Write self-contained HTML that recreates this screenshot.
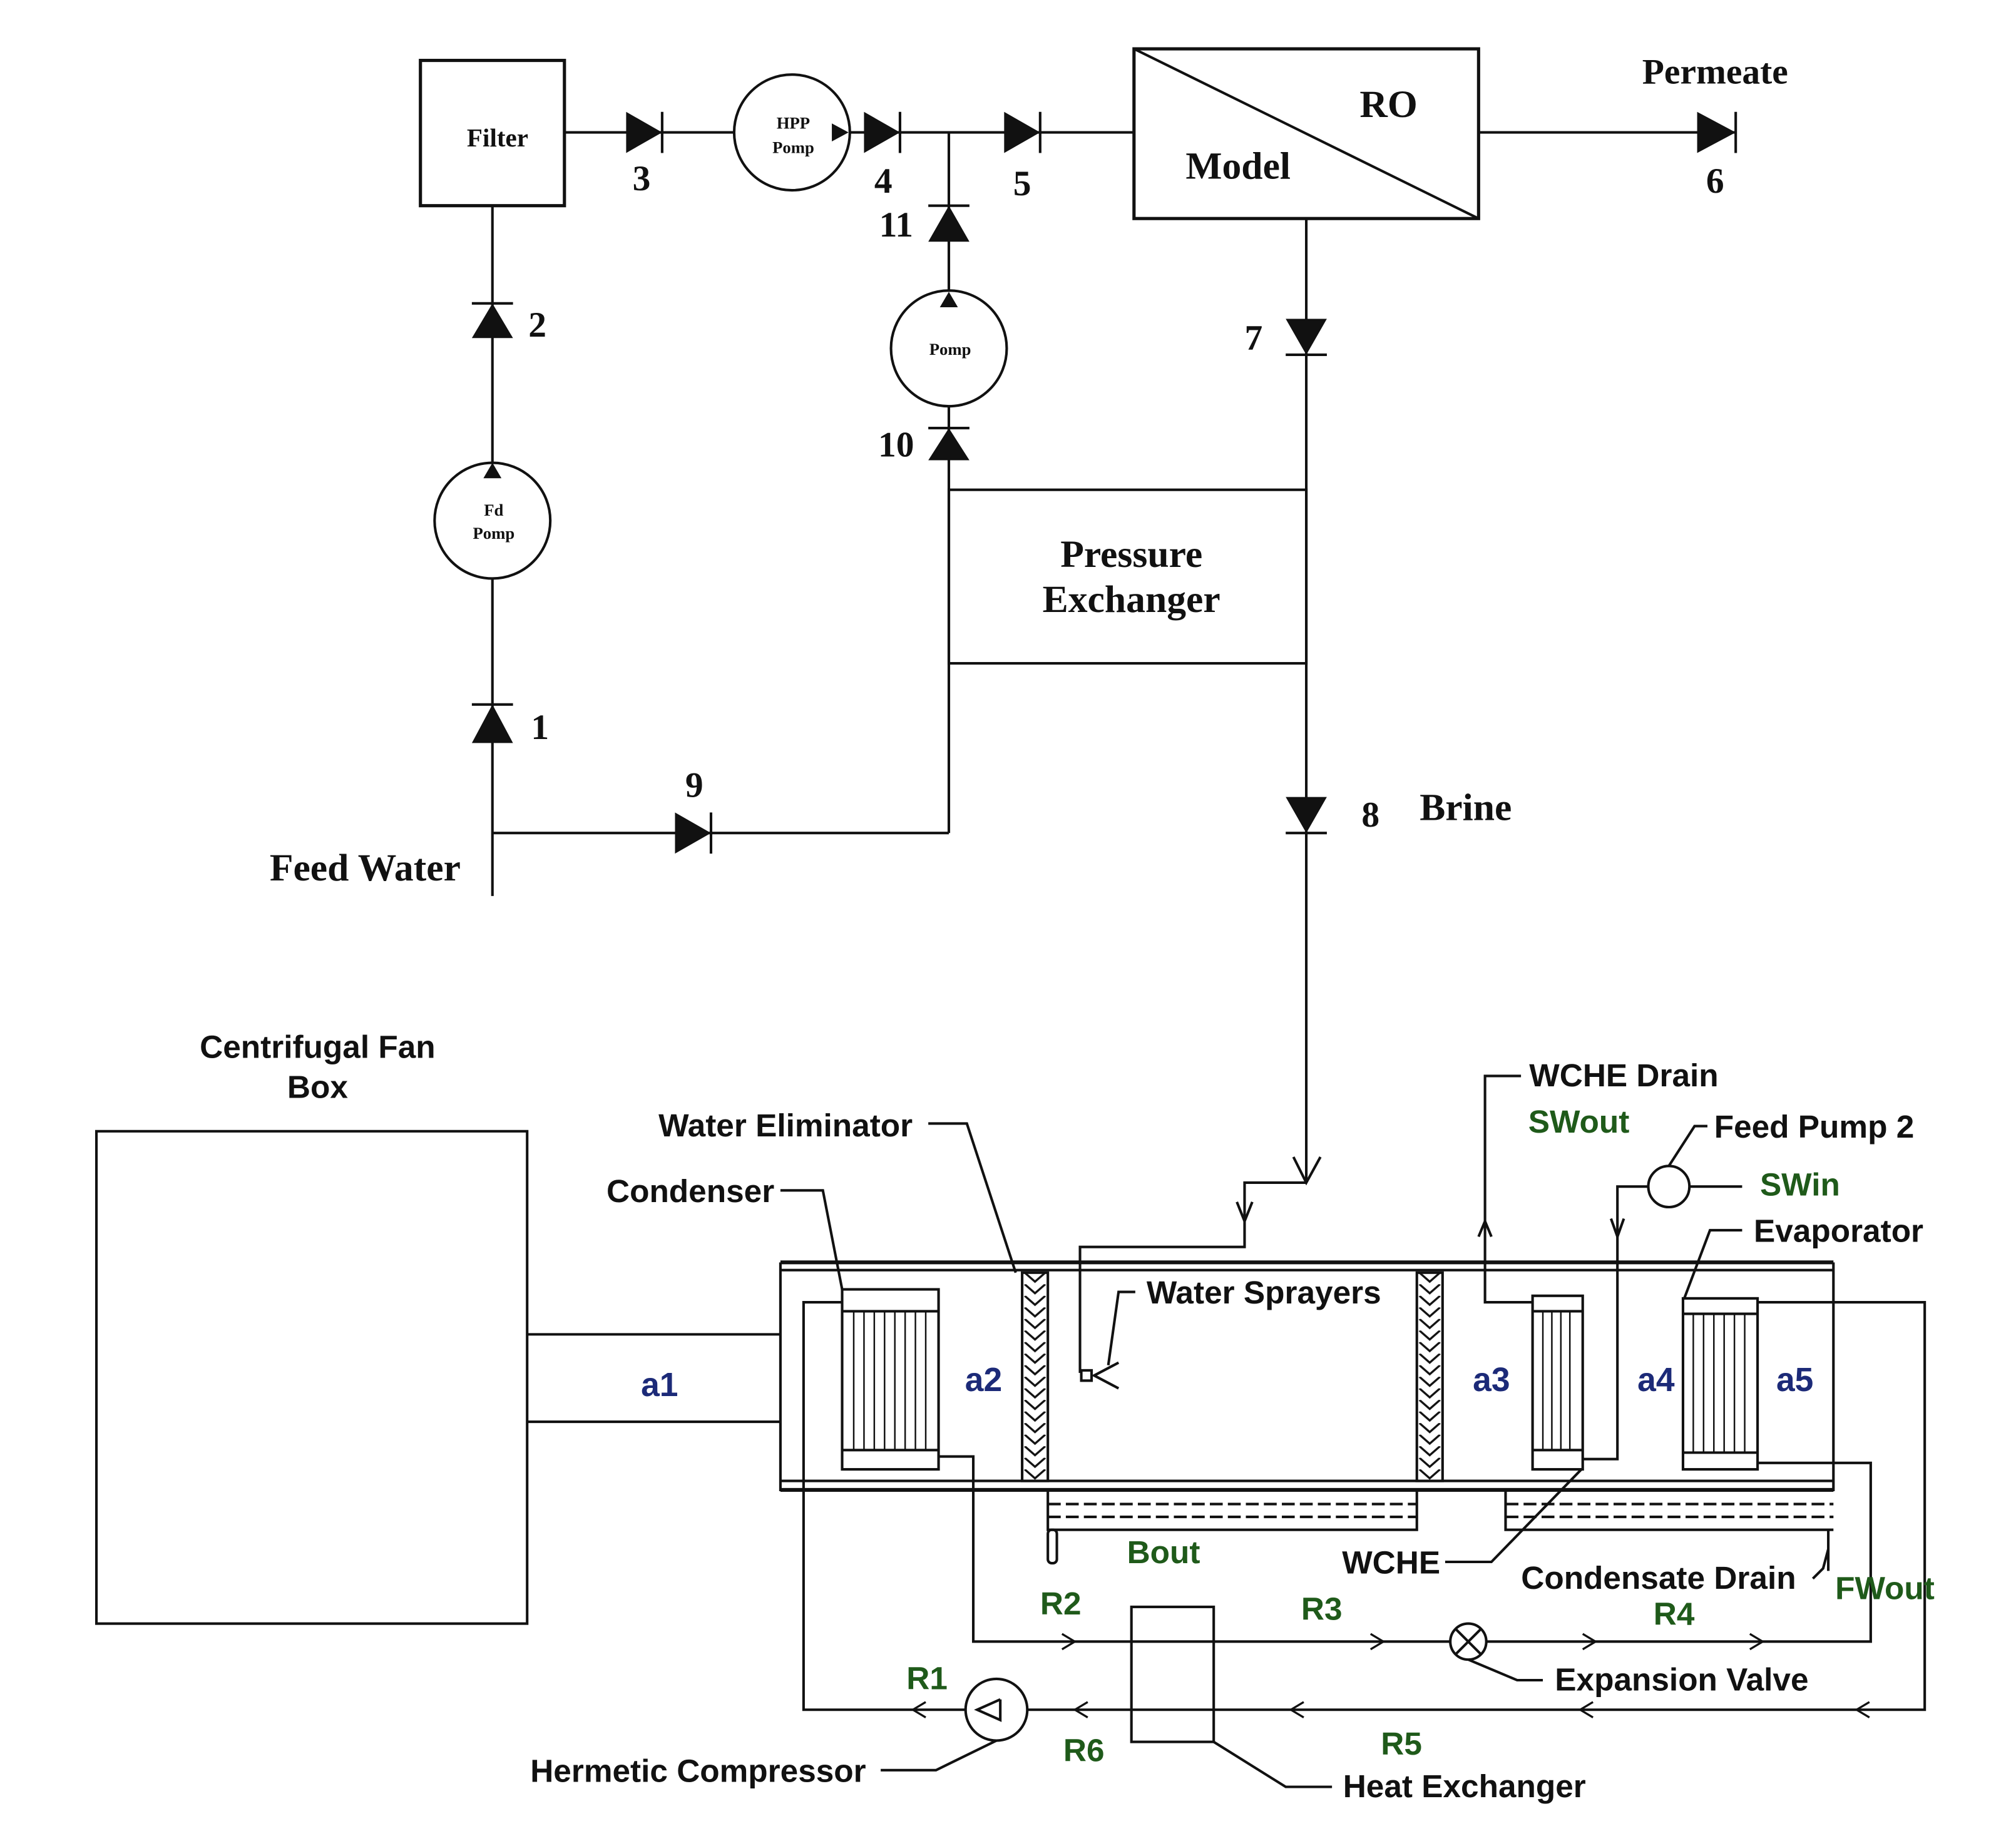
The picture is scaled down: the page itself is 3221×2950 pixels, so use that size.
<!DOCTYPE html>
<html><head><meta charset="utf-8"><style>
html,body{margin:0;padding:0;background:#fff;}
svg{display:block}
.s{font-family:"Liberation Serif",serif;font-weight:bold;fill:#111}
.a{font-family:"Liberation Sans",sans-serif;fill:#111}
.g{fill:#1f5a1a}
.b{fill:#1c2a78}
</style></head><body>
<svg width="3221" height="2950" viewBox="0 0 1568 1436" preserveAspectRatio="none" xmlns="http://www.w3.org/2000/svg">
<defs>
<pattern id="zz" x="795" y="990" width="20" height="9" patternUnits="userSpaceOnUse">
<polyline points="2,0 10,7 18,0" fill="none" stroke="#111" stroke-width="1.6"/>
</pattern>
<pattern id="zz2" x="1102" y="990" width="20" height="9" patternUnits="userSpaceOnUse">
<polyline points="2,0 10,7 18,0" fill="none" stroke="#111" stroke-width="1.6"/>
</pattern>
</defs>
<rect width="1568" height="1436" fill="#fff"/>
<g stroke="#111" stroke-width="2" fill="none">
<rect x="327" y="47" width="112" height="113" stroke-width="2.5"/>
<line x1="439" y1="103" x2="571" y2="103"/>
<line x1="661" y1="103" x2="882" y2="103"/>
<circle cx="616" cy="103" r="45"/>
<rect x="882" y="38" width="268" height="132" stroke-width="2.5"/>
<line x1="882" y1="38" x2="1150" y2="170"/>
<line x1="1150" y1="103" x2="1350" y2="103"/>
<line x1="738" y1="103" x2="738" y2="227"/>
<circle cx="738" cy="271" r="45"/>
<line x1="738" y1="316" x2="738" y2="648"/>
<rect x="738" y="381" width="278" height="135"/>
<line x1="738" y1="648" x2="383" y2="648"/>
<line x1="383" y1="697" x2="383" y2="450"/>
<circle cx="383" cy="405" r="45"/>
<line x1="383" y1="360" x2="383" y2="160"/>
<line x1="1016" y1="170" x2="1016" y2="920"/>
<polyline points="1006,900 1016,920 1027,900"/>
<polyline points="1016,920 968,920 968,970 840,970 840,1068"/>
<polyline points="962,935 968,950 974,935"/>
<line x1="515" y1="87" x2="515" y2="119"/>
<line x1="700" y1="87" x2="700" y2="119"/>
<line x1="809" y1="87" x2="809" y2="119"/>
<line x1="1350" y1="87" x2="1350" y2="119"/>
<line x1="722" y1="160" x2="754" y2="160"/>
<line x1="722" y1="333" x2="754" y2="333"/>
<line x1="367" y1="236" x2="399" y2="236"/>
<line x1="367" y1="548" x2="399" y2="548"/>
<line x1="553" y1="632" x2="553" y2="664"/>
<line x1="1000" y1="276" x2="1032" y2="276"/>
<line x1="1000" y1="648" x2="1032" y2="648"/>
</g>
<g fill="#111">
<polygon points="487,87 487,119 515,103"/>
<polygon points="672,87 672,119 700,103"/>
<polygon points="781,87 781,119 809,103"/>
<polygon points="1320,87 1320,119 1350,103"/>
<polygon points="722,188 754,188 738,160"/>
<polygon points="722,358 754,358 738,333"/>
<polygon points="367,263 399,263 383,236"/>
<polygon points="367,578 399,578 383,548"/>
<polygon points="525,632 525,664 553,648"/>
<polygon points="1000,248 1032,248 1016,276"/>
<polygon points="1000,620 1032,620 1016,648"/>
<polygon points="647,96 647,110 660,103"/>
<polygon points="731,239 745,239 738,227"/>
<polygon points="376,372 390,372 383,360"/>
</g>
<g class="s">
<text x="387" y="114" font-size="20" text-anchor="middle">Filter</text>
<text x="617" y="100" font-size="13" text-anchor="middle">HPP</text>
<text x="617" y="119" font-size="13" text-anchor="middle">Pomp</text>
<text x="739" y="276" font-size="13" text-anchor="middle">Pomp</text>
<text x="384" y="401" font-size="13" text-anchor="middle">Fd</text>
<text x="384" y="419" font-size="13" text-anchor="middle">Pomp</text>
<text x="1080" y="91" font-size="30" text-anchor="middle">RO</text>
<text x="963" y="139" font-size="30" text-anchor="middle">Model</text>
<text x="1334" y="65" font-size="28" text-anchor="middle">Permeate</text>
<text x="880" y="441" font-size="30" text-anchor="middle">Pressure</text>
<text x="880" y="476" font-size="30" text-anchor="middle">Exchanger</text>
<text x="284" y="685" font-size="30" text-anchor="middle">Feed Water</text>
<text x="1140" y="638" font-size="30" text-anchor="middle">Brine</text>
<g font-size="28" text-anchor="middle">
<text x="499" y="148">3</text><text x="687" y="150">4</text><text x="795" y="152">5</text>
<text x="1334" y="150">6</text><text x="697" y="184">11</text><text x="697" y="355">10</text>
<text x="418" y="262">2</text><text x="420" y="575">1</text><text x="540" y="620">9</text>
<text x="975" y="272">7</text><text x="1066" y="643">8</text>
</g>
</g>
<g stroke="#111" stroke-width="2" fill="none">
<rect x="75" y="880" width="335" height="383"/>
<line x1="410" y1="1038" x2="607" y2="1038"/>
<line x1="410" y1="1106" x2="607" y2="1106"/>
<line x1="607" y1="982" x2="1426" y2="982" stroke-width="3"/>
<line x1="607" y1="988" x2="1426" y2="988" stroke-width="2"/>
<line x1="607" y1="1152" x2="1426" y2="1152" stroke-width="2"/>
<line x1="607" y1="1159" x2="1426" y2="1159" stroke-width="3"/>
<line x1="607" y1="982" x2="607" y2="1160"/>
<line x1="1426" y1="982" x2="1426" y2="1160"/>
<rect x="655" y="1003" width="75" height="140"/>
<line x1="655" y1="1020" x2="730" y2="1020"/><line x1="655" y1="1128" x2="730" y2="1128"/>
<g stroke-width="1.2"><line x1="664" y1="1020" x2="664" y2="1128"/><line x1="672" y1="1020" x2="672" y2="1128"/><line x1="680" y1="1020" x2="680" y2="1128"/><line x1="688" y1="1020" x2="688" y2="1128"/><line x1="696" y1="1020" x2="696" y2="1128"/><line x1="704" y1="1020" x2="704" y2="1128"/><line x1="712" y1="1020" x2="712" y2="1128"/><line x1="720" y1="1020" x2="720" y2="1128"/></g>
<rect x="1192" y="1008" width="39" height="135"/>
<line x1="1192" y1="1020" x2="1231" y2="1020"/><line x1="1192" y1="1128" x2="1231" y2="1128"/>
<g stroke-width="1.2"><line x1="1200" y1="1020" x2="1200" y2="1128"/><line x1="1207" y1="1020" x2="1207" y2="1128"/><line x1="1214" y1="1020" x2="1214" y2="1128"/><line x1="1221" y1="1020" x2="1221" y2="1128"/></g>
<rect x="1309" y="1010" width="58" height="133"/>
<line x1="1309" y1="1022" x2="1367" y2="1022"/><line x1="1309" y1="1130" x2="1367" y2="1130"/>
<g stroke-width="1.2"><line x1="1317" y1="1022" x2="1317" y2="1130"/><line x1="1325" y1="1022" x2="1325" y2="1130"/><line x1="1333" y1="1022" x2="1333" y2="1130"/><line x1="1341" y1="1022" x2="1341" y2="1130"/><line x1="1349" y1="1022" x2="1349" y2="1130"/><line x1="1357" y1="1022" x2="1357" y2="1130"/></g>
<rect x="795" y="990" width="20" height="162" fill="url(#zz)"/>
<rect x="1102" y="990" width="20" height="162" fill="url(#zz2)"/>
<polyline points="815,1160 815,1190 1102,1190 1102,1160"/>
<line x1="815" y1="1170" x2="1102" y2="1170" stroke-dasharray="10,4"/>
<line x1="815" y1="1180" x2="1102" y2="1180" stroke-dasharray="10,4"/>
<polyline points="1171,1160 1171,1190 1426,1190"/>
<line x1="1171" y1="1170" x2="1426" y2="1170" stroke-dasharray="10,4"/>
<line x1="1171" y1="1180" x2="1426" y2="1180" stroke-dasharray="10,4"/>
<rect x="815" y="1190" width="7" height="26" rx="3"/>
<polyline points="1422,1190 1422,1222"/>
<rect x="841" y="1066" width="8" height="8"/>
<polyline points="870,1060 851,1070 870,1080"/>
<polyline points="1192,1013 1155,1013 1155,837 1183,837"/>
<polyline points="1150,962 1155,950 1160,962"/>
<polyline points="1231,1135 1258,1135 1258,923 1282,923"/>
<polyline points="1253,948 1258,962 1263,948"/>
<circle cx="1298" cy="923" r="16"/>
<line x1="1314" y1="923" x2="1355" y2="923"/>
<polyline points="1298,907 1318,876 1328,876"/>
<polyline points="1310,1010 1330,957 1355,957"/>
<polyline points="655,1013 625,1013 625,1330 751,1330"/>
<polyline points="799,1330 1497,1330 1497,1013 1367,1013"/>
<polyline points="730,1133 757,1133 757,1277 1128,1277"/>
<polyline points="1156,1277 1455,1277 1455,1138 1367,1138"/>
<rect x="880" y="1250" width="64" height="105"/>
<circle cx="1142" cy="1277" r="14"/>
<line x1="1132" y1="1267" x2="1152" y2="1287"/><line x1="1152" y1="1267" x2="1132" y2="1287"/>
<circle cx="775" cy="1330" r="24"/>
<polyline points="778,1322 760,1330 778,1338 778,1322"/>
<g stroke-width="1.6">
<polyline points="826,1271 836,1277 826,1283"/><polyline points="1066,1271 1076,1277 1066,1283"/>
<polyline points="1231,1271 1241,1277 1231,1283"/><polyline points="1361,1271 1371,1277 1361,1283"/>
<polyline points="720,1324 710,1330 720,1336"/><polyline points="846,1324 836,1330 846,1336"/>
<polyline points="1014,1324 1004,1330 1014,1336"/><polyline points="1239,1324 1229,1330 1239,1336"/>
<polyline points="1454,1324 1444,1330 1454,1336"/>
</g>
<polyline points="607,926 640,926 655,1003"/>
<polyline points="722,874 752,874 790,990"/>
<polyline points="883,1005 870,1005 862,1062"/>
<polyline points="1124,1215 1160,1215 1230,1143"/>
<polyline points="1410,1228 1418,1220 1422,1205"/>
<polyline points="1142,1291 1180,1307 1200,1307"/>
<polyline points="944,1355 1000,1390 1036,1390"/>
<polyline points="775,1354 728,1377 685,1377"/>
</g>
<g class="a" font-weight="bold">
<text x="247" y="823" font-size="25" text-anchor="middle">Centrifugal Fan</text>
<text x="247" y="854" font-size="25" text-anchor="middle">Box</text>
<text x="611" y="884" font-size="25" text-anchor="middle">Water Eliminator</text>
<text x="537" y="935" font-size="25" text-anchor="middle">Condenser</text>
<text x="983" y="1014" font-size="25" text-anchor="middle">Water Sprayers</text>
<text x="1263" y="845" font-size="25" text-anchor="middle">WCHE Drain</text>
<text x="1411" y="885" font-size="25" text-anchor="middle">Feed Pump 2</text>
<text x="1430" y="966" font-size="25" text-anchor="middle">Evaporator</text>
<text x="1082" y="1224" font-size="25" text-anchor="middle">WCHE</text>
<text x="1290" y="1236" font-size="25" text-anchor="middle">Condensate Drain</text>
<text x="1308" y="1315" font-size="25" text-anchor="middle">Expansion Valve</text>
<text x="1139" y="1398" font-size="25" text-anchor="middle">Heat Exchanger</text>
<text x="543" y="1386" font-size="25" text-anchor="middle">Hermetic Compressor</text>
<g class="g" font-size="25" text-anchor="middle">
<text x="1228" y="881">SWout</text><text x="1400" y="930">SWin</text>
<text x="905" y="1216">Bout</text><text x="1466" y="1244">FWout</text>
<text x="825" y="1256">R2</text><text x="1028" y="1260">R3</text><text x="1302" y="1264">R4</text>
<text x="721" y="1314">R1</text><text x="843" y="1370">R6</text><text x="1090" y="1365">R5</text>
</g>
<g class="b" font-size="26" text-anchor="middle">
<text x="513" y="1086">a1</text><text x="765" y="1082">a2</text><text x="1160" y="1082">a3</text>
<text x="1288" y="1082">a4</text><text x="1396" y="1082">a5</text>
</g>
</g>
</svg>
</body></html>
